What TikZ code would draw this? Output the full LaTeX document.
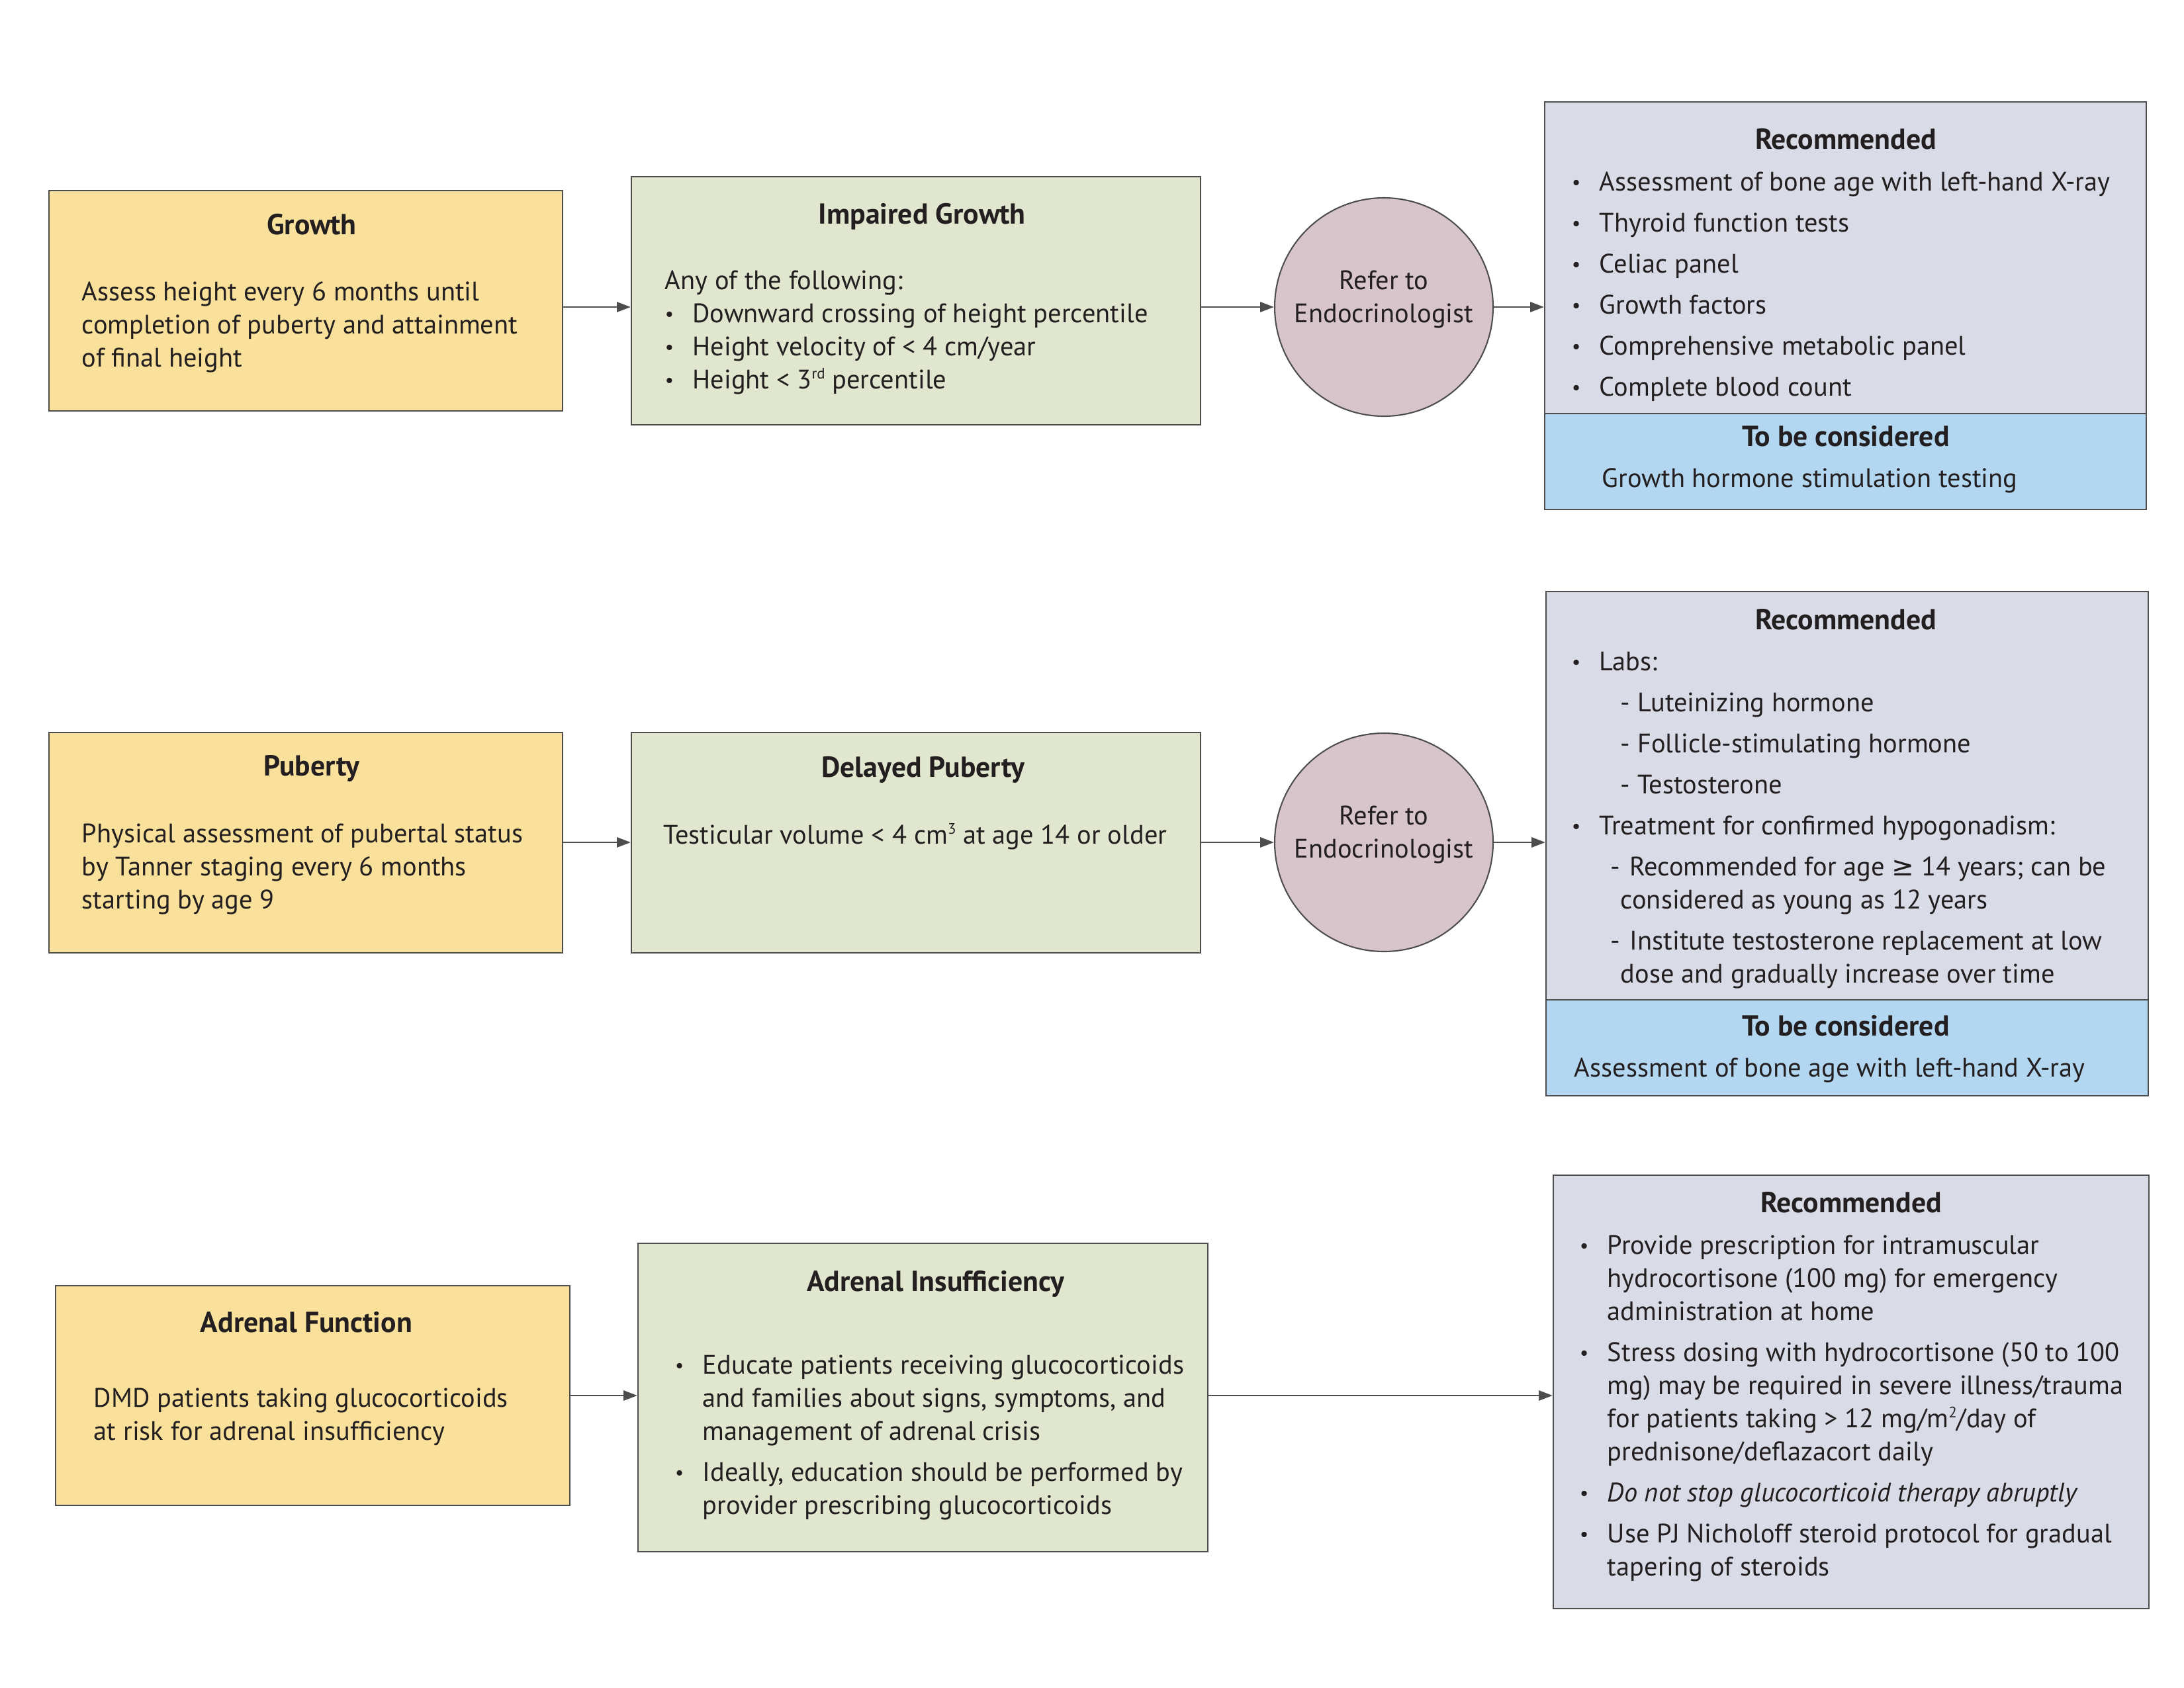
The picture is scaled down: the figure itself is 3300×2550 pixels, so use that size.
\documentclass[tikz,border=0pt]{standalone}
\usepackage{fontspec}
\setmainfont{PT Sans}
\newfontfamily\symf{DejaVu Sans}
\usetikzlibrary{arrows.meta,fit}
\definecolor{cyel}{HTML}{FAE19B}
\definecolor{cgrn}{HTML}{E1E6CF}
\definecolor{cmauve}{HTML}{D8C4CB}
\definecolor{cgrey}{HTML}{D9DCE7}
\definecolor{cblue}{HTML}{B3D7F0}
\definecolor{cbord}{HTML}{4D4D4D}
\definecolor{ctext}{HTML}{231F20}
\newcommand\bl{\llap{\makebox[10pt][l]{\raisebox{0.7pt}{\fontsize{7}{7}\selectfont•}}}}
\newcommand\sups[1]{\raisebox{3.6pt}{\fontsize{5.5}{6}\selectfont #1}}
\newcommand\tbl[1]{\begin{tabular}[t]{@{}l@{}}#1\end{tabular}}
\newcommand\tbc[1]{\begin{tabular}[t]{@{}c@{}}#1\end{tabular}}
\tikzset{
  box/.style={draw=cbord, line width=0.5pt, inner sep=0pt},
  ybox/.style={box, fill=cyel},
  gbox/.style={box, fill=cgrn},
  rbox/.style={box, fill=cgrey},
  bbox/.style={box, fill=cblue},
  circ/.style={circle, draw=cbord, line width=0.5pt, fill=cmauve, minimum size=79.2pt, inner sep=0pt},
  ttl/.style={font=\fontsize{10.5}{12}\selectfont\bfseries, text=ctext, anchor=base, inner sep=0pt},
  txt/.style={font=\fontsize{9.7}{12}\selectfont, text=ctext, anchor=base west, inner sep=0pt},
  ctxt/.style={font=\fontsize{9.7}{12}\selectfont, text=ctext, anchor=base, inner sep=0pt},
  arr/.style={draw=cbord, line width=0.7pt, -{Triangle[length=5pt,width=3.6pt]}},
}
\begin{document}
\begin{tikzpicture}[x=0.24pt,y=-0.24pt]
\useasboundingbox (0,0) rectangle (3300,2550);
% ---------- Row 1 ----------
\node[ybox, fit={(74,288) (850,621)}] (growth) {};
\node[gbox, fit={(954,267) (1814,642)}] (impaired) {};
\node[circ] (c1) at (2091,464) {};
\node[rbox, fit={(2334,154) (3243,625)}] (rec1) {};
\node[bbox, fit={(2334,625) (3243,770)}] (con1) {};
\node[ttl] (tgrowth) at (471,354) {Growth};
\node[txt] (bgrowth) at (123,454) {\tbl{Assess height every 6 months until\\completion of puberty and attainment\\of final height}};
\node[ttl] (timp) at (1393,338) {Impaired Growth};
\node[txt] (bimp) at (1004,437) {\tbl{Any of the following:\\
\hspace*{10pt}\bl Downward crossing of height percentile\\
\hspace*{10pt}\bl Height velocity of < 4 cm/year\\
\hspace*{10pt}\bl Height < 3\sups{rd} percentile}};
\node[ctxt] (tc1) at (2091,437) {\tbc{Refer to\\Endocrinologist}};
\node[ttl] (trec1) at (2789,225) {Recommended};
\node[txt] (brec1) at (2416,288) {\tbl{\bl Assessment of bone age with left-hand X-ray\\[2.9pt]
\bl Thyroid function tests\\[2.9pt]
\bl Celiac panel\\[2.9pt]
\bl Growth factors\\[2.9pt]
\bl Comprehensive metabolic panel\\[2.9pt]
\bl Complete blood count}};
\node[ttl] (tcon1) at (2789,674) {To be considered};
\node[txt] (bcon1) at (2420,736) {Growth hormone stimulation testing};
\draw[arr] (growth.east |- c1) -- (impaired.west |- c1);
\draw[arr] (impaired.east |- c1) -- (c1.west);
\draw[arr] (c1.east) -- (rec1.west |- c1);
% ---------- Row 2 ----------
\node[ybox, fit={(74,1107) (850,1440)}] (puberty) {};
\node[gbox, fit={(954,1107) (1814,1440)}] (delayed) {};
\node[circ] (c2) at (2091,1273) {};
\node[rbox, fit={(2336,894) (3246,1511)}] (rec2) {};
\node[bbox, fit={(2336,1511) (3246,1656)}] (con2) {};
\node[ttl] (tpub) at (471,1172) {Puberty};
\node[txt] (bpub) at (123,1273) {\tbl{Physical assessment of pubertal status\\by Tanner staging every 6 months\\starting by age 9}};
\node[ttl] (tdel) at (1395,1174) {Delayed Puberty};
\node[txt] (bdel) at (1002,1275) {Testicular volume < 4 cm\sups{3} at age 14 or older};
\node[ctxt] (tc2) at (2091,1246) {\tbc{Refer to\\Endocrinologist}};
\node[ttl] (trec2) at (2789,951) {Recommended};
\node[txt] (brec2) at (2416,1013) {\tbl{\bl Labs:\\[2.9pt]
\hspace*{7.7pt}- Luteinizing hormone\\[2.9pt]
\hspace*{7.7pt}- Follicle-stimulating hormone\\[2.9pt]
\hspace*{7.7pt}- Testosterone\\[2.9pt]
\bl Treatment for confirmed hypogonadism:\\[2.9pt]
\hspace*{4pt}-\hspace*{3.5pt}Recommended for age {\symf ≥} 14 years; can be\\
\hspace*{7.7pt}considered as young as 12 years\\[2.9pt]
\hspace*{4pt}-\hspace*{3.5pt}Institute testosterone replacement at low\\
\hspace*{7.7pt}dose and gradually increase over time}};
\node[ttl] (tcon2) at (2789,1565) {To be considered};
\node[txt] (bcon2) at (2378,1627) {Assessment of bone age with left-hand X-ray};
\draw[arr] (puberty.east |- c2) -- (delayed.west |- c2);
\draw[arr] (delayed.east |- c2) -- (c2.west);
\draw[arr] (c2.east) -- (rec2.west |- c2);
% ---------- Row 3 ----------
\node[ybox, fit={(84,1943) (861,2275)}] (adrenal) {};
\node[gbox, fit={(964,1879) (1825,2345)}] (insuff) {};
\node[rbox, fit={(2347,1776) (3247,2431)}] (rec3) {};
\node[ttl] (tadr) at (463,2013) {Adrenal Function};
\node[txt] (badr) at (141,2126) {\tbl{DMD patients taking glucocorticoids\\at risk for adrenal insufficiency}};
\node[ttl] (tins) at (1414,1951) {Adrenal Insufficiency};
\node[txt] (bins) at (1061,2076) {\tbl{\bl Educate patients receiving glucocorticoids\\
and families about signs, symptoms, and\\
management of adrenal crisis\\[2.9pt]
\bl Ideally, education should be performed by\\
provider prescribing glucocorticoids}};
\node[ttl] (trec3) at (2797,1832) {Recommended};
\node[txt] (brec3) at (2428,1895) {\tbl{\bl Provide prescription for intramuscular\\
hydrocortisone (100 mg) for emergency\\
administration at home\\[2.9pt]
\bl Stress dosing with hydrocortisone (50 to 100\\
mg) may be required in severe illness/trauma\\
for patients taking > 12 mg/m\sups{2}/day of\\
prednisone/deflazacort daily\\[2.9pt]
\bl \textit{Do not stop glucocorticoid therapy abruptly}\\[2.9pt]
\bl Use PJ Nicholoff steroid protocol for gradual\\
tapering of steroids}};
\draw[arr] (adrenal.east) -- (insuff.west |- adrenal);
\draw[arr] (insuff.east |- adrenal) -- (rec3.west |- adrenal);
\end{tikzpicture}
\end{document}
